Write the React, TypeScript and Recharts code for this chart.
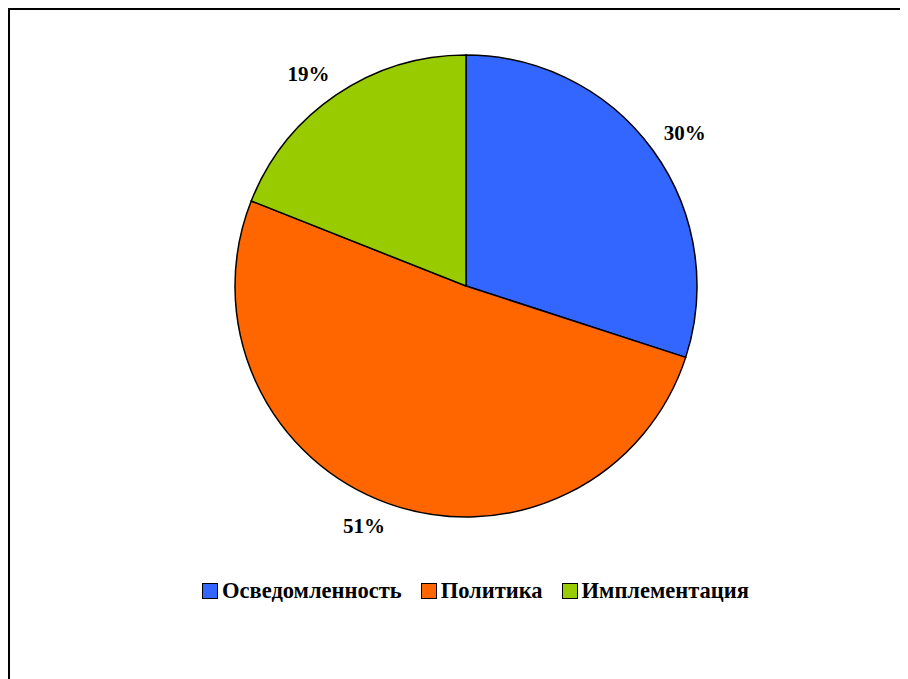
import { Cell, Legend, Pie, PieChart } from 'recharts'

// Share of each category (percent)
const categories = ['Осведомленность', 'Политика', 'Имплементация']
const shares = [30, 51, 19]
const colors = ['#3366FF', '#FF6600', '#99CC00']

const data = categories.map((name, i) => ({ name, value: shares[i] }))

const RADIAN = Math.PI / 180
const FONT = '"Liberation Serif", "Times New Roman", serif'

// Percent label outside the slice, box pushed away from the pie like Excel does
const renderLabel = ({ cx, cy, midAngle, outerRadius, value }: any) => {
  const r = outerRadius + 17
  const cos = Math.cos(-midAngle * RADIAN)
  const sin = Math.sin(-midAngle * RADIAN)
  const x = cx + r * cos + 18 * Math.sign(cos)
  const y = cy + r * sin + 7 * Math.sign(sin)
  return (
    <text
      x={x}
      y={y}
      textAnchor="middle"
      dominantBaseline="central"
      fill="#000"
      fontFamily={FONT}
      fontWeight="bold"
      fontSize={21}
    >
      {`${value}%`}
    </text>
  )
}

const LegendContent = () => (
  <div
    style={{
      display: 'flex',
      justifyContent: 'center',
      gap: 19,
      paddingLeft: 31,
      fontFamily: FONT,
      fontWeight: 'bold',
      fontSize: 22.5,
      color: '#000',
    }}
  >
    {categories.map((c, i) => (
      <div key={c} style={{ display: 'flex', alignItems: 'center' }}>
        <span
          style={{
            display: 'inline-block',
            width: 14,
            height: 14,
            background: colors[i],
            border: '1.5px solid #000',
            marginRight: 4,
          }}
        />
        <span>{c}</span>
      </div>
    ))}
  </div>
)

export default function App() {
  return (
    <div style={{ width: 900, height: 671, overflow: 'hidden' }}>
      <div style={{ width: 940, height: 720, border: '2px solid #000', background: '#fff' }}>
        <PieChart width={900} height={668}>
          <Pie
            data={data}
            dataKey="value"
            nameKey="name"
            cx={451}
            cy={271}
            outerRadius={231}
            startAngle={90}
            endAngle={-270}
            stroke="#000"
            strokeWidth={1.5}
            label={renderLabel}
            labelLine={false}
            isAnimationActive={false}
          >
            {data.map((d, i) => (
              <Cell key={d.name} fill={colors[i]} />
            ))}
          </Pie>
          <Legend content={<LegendContent />} wrapperStyle={{ top: 568, left: 0, width: 900 }} />
        </PieChart>
      </div>
    </div>
  )
}
